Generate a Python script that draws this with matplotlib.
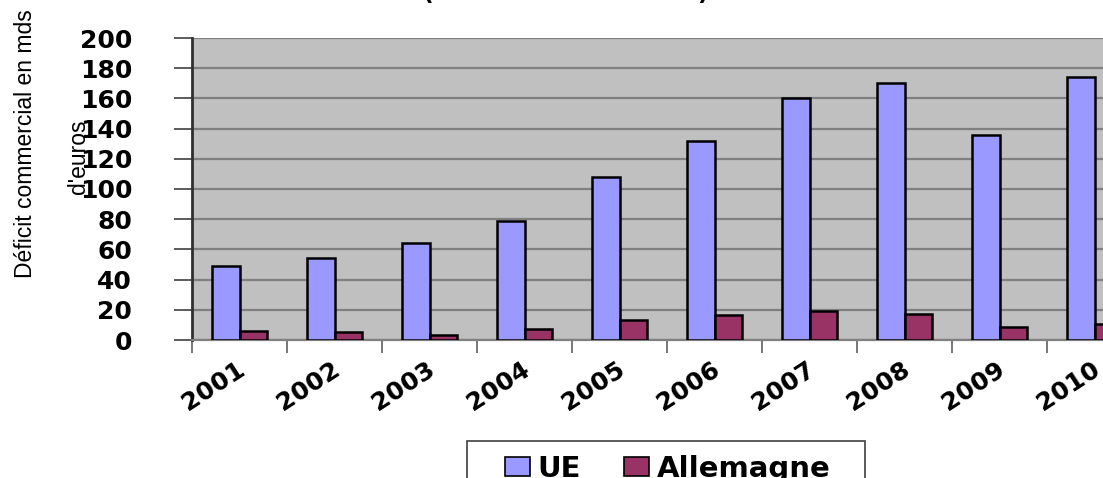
import matplotlib
matplotlib.use("Agg")
import matplotlib.pyplot as plt
import matplotlib.transforms as mtransforms
from matplotlib.patches import Patch, Rectangle
import numpy as np

years = ["2001", "2002", "2003", "2004", "2005", "2006", "2007", "2008", "2009", "2010"]
ue = [49, 54, 64, 79, 108, 132, 160, 170, 136, 174]
allemagne = [6, 5, 3, 7.5, 13.5, 16.5, 19.5, 17.5, 8.5, 10.5]
yticks = [0, 20, 40, 60, 80, 100, 120, 140, 160, 180, 200]
series_names = ["UE", "Allemagne"]
title_text = "(en milliards d'euros)"
ylabel_line1 = "Déficit commercial en mds"
ylabel_line2 = "d'euros"

W, H = 1103, 478
fig = plt.figure(figsize=(W / 100, H / 100), dpi=100)
ax = fig.add_axes([192 / W, (H - 340) / H, 950 / W, 302 / H])
ax.set_facecolor("#C0C0C0")

x = np.arange(len(years))
bw = 0.29
ax.bar(x - bw / 2, ue, bw, color="#9999FF", edgecolor="black", linewidth=1.8, zorder=3)
ax.bar(x + bw / 2, allemagne, bw, color="#993366", edgecolor="black", linewidth=1.8, zorder=3)

ax.set_xlim(-0.5, 9.5)
ax.set_ylim(0, 200)
ax.set_yticks(yticks)
ax.yaxis.grid(True, color="#808080", linewidth=1.6, zorder=1)
ax.set_axisbelow(True)

for s in ["top", "right"]:
    ax.spines[s].set_visible(False)
ax.spines["left"].set_color("#303030")
ax.spines["left"].set_linewidth(2.0)
ax.spines["bottom"].set_color("#808080")
ax.spines["bottom"].set_linewidth(1.6)

tickfont = dict(family="DejaVu Sans", weight="bold", size=18)
ax.set_yticklabels([str(v) for v in yticks], **tickfont)
ax.tick_params(axis="y", direction="out", length=13, width=1.2, color="#404040", pad=30)

ax.set_xticks(x)
ax.set_xticks(np.arange(-0.5, 10, 1), minor=True)
ax.tick_params(axis="x", which="major", length=0, pad=12)
ax.tick_params(axis="x", which="minor", direction="out", length=9, width=1.2, color="#606060")
ax.set_xticklabels(years, rotation=33, ha="right", va="top", rotation_mode="anchor", **tickfont)
off = mtransforms.ScaledTranslation(-3 / 100, 0, fig.dpi_scale_trans)
for lab in ax.get_xticklabels():
    lab.set_transform(lab.get_transform() + off)

# y label (two lines)
fig.text(26 / W, 1 - 144 / H, ylabel_line1, rotation=90, ha="center", va="center",
         family="Liberation Sans", fontsize=16.5)
fig.text(78 / W, 1 - 157 / H, ylabel_line2, rotation=90, ha="center", va="center",
         family="Liberation Sans", fontsize=16.5)

# title (mostly cut off at top)
fig.text(566 / W, 1.0, title_text, ha="center", va="baseline",
         family="DejaVu Sans", weight="bold", fontsize=17)

# legend box (extends below the figure edge)
fig.patches.append(Rectangle((467 / W, -0.05), 398 / W, (H - 441) / H + 0.05,
                             transform=fig.transFigure, facecolor="white",
                             edgecolor="#404040", linewidth=1.2, zorder=1))
handles = [Patch(facecolor="#9999FF", edgecolor="black", linewidth=1.2),
           Patch(facecolor="#993366", edgecolor="black", linewidth=1.2)]
leg = fig.legend(handles, series_names, loc="upper left",
                 bbox_to_anchor=(505 / W, 1 - 455 / H),
                 ncol=2, frameon=False,
                 prop=dict(family="DejaVu Sans", weight="bold", size=21),
                 handlelength=0.85, handleheight=0.6, handletextpad=0.25,
                 columnspacing=1.5, borderpad=0, borderaxespad=0)
leg.set_zorder(5)

fig.savefig("out.png", dpi=100)
